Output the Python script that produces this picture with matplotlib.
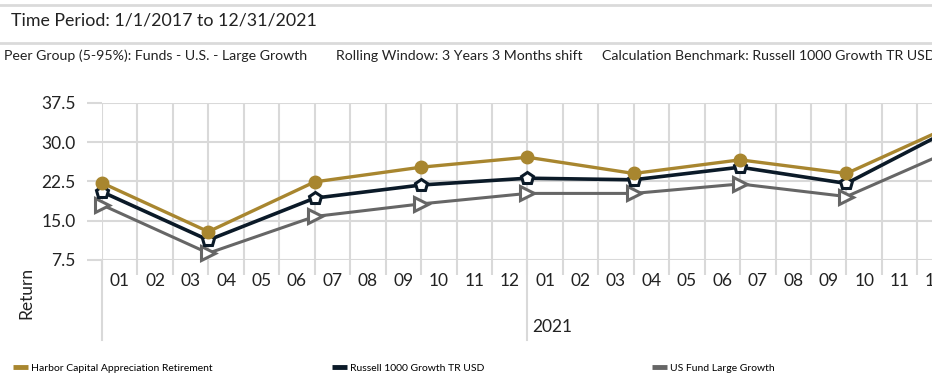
import matplotlib
matplotlib.use("Agg")
import matplotlib.pyplot as plt
from matplotlib.lines import Line2D
import matplotlib.transforms as mtransforms

plt.rcParams['font.family'] = ['Lato', 'DejaVu Sans']

# quarter-end dates of the rolling windows (year, month)
quarters = [(2019, 12), (2020, 3), (2020, 6), (2020, 9), (2020, 12),
            (2021, 3), (2021, 6), (2021, 9), (2021, 12)]
harbor  = [22.2, 12.9, 22.4, 25.2, 27.1, 24.0, 26.6, 24.0, 33.2]
russell = [20.5, 11.3, 19.3, 21.8, 23.1, 22.8, 25.2, 22.1, 32.6]
peer    = [18.0,  8.8, 15.8, 18.2, 20.2, 20.2, 22.0, 19.6, 28.5]

series_names = ["Harbor Capital Appreciation Retirement",
                "Russell 1000 Growth TR USD",
                "US Fund Large Growth"]
month_labels = ["%02d" % m for m in range(1, 13)] * 2
year_labels = ["2021"]
yticks = [7.5, 15.0, 22.5, 30.0, 37.5]

gold = "#A8862F"
navy = "#0B1A28"
gray = "#666666"
grid = "#D9D9D9"

# months elapsed since 2019-12 -> x position
xpos = [(y - 2019) * 12 + m - 12 for y, m in quarters]

W, H = 932, 373
fig = plt.figure(figsize=(W / 100, H / 100), dpi=100)

# header lines and text
for yy in (5, 43):
    fig.add_artist(Line2D([0, 1], [1 - yy / H, 1 - yy / H], color="#DADADA", lw=2,
                          transform=fig.transFigure))
fig.text(11 / W, 1 - 20 / H, "Time Period: 1/1/2017 to 12/31/2021", fontsize=12.8,
         color="#222222", va="center")
sub = [(4, "Peer Group (5-95%): Funds - U.S. - Large Growth"),
       (336, "Rolling Window: 3 Years 3 Months shift"),
       (602, "Calculation Benchmark: Russell 1000 Growth TR USD")]
for x, s in sub:
    fig.text(x / W, 1 - 56 / H, s, fontsize=10.2, color="#222222", va="center")

step = 35.45
ax = fig.add_axes([102 / W, 1 - 260 / H, 24 * step / W, 157.3 / H])
ax.set_xlim(0, 24)
ax.set_ylim(7.5, 37.5)
for sp in ax.spines.values():
    sp.set_visible(False)

ax.set_yticks(yticks)
ax.set_yticklabels(["%.1f" % v for v in yticks])
ax.tick_params(axis="y", length=11, width=1.5, color=grid, pad=8,
               labelsize=12.5, labelcolor="#222222")
ax.set_xticks(range(0, 25))
ax.set_xticklabels([])
ax.set_xticks([i + 0.5 for i in range(24)], minor=True)
ax.set_xticklabels(month_labels, minor=True)
ax.tick_params(axis="x", which="major", length=11, width=1.5, color=grid)
ax.tick_params(axis="x", which="minor", length=0, pad=9, labelsize=12.5,
               labelcolor="#222222")
ax.grid(True, color=grid, lw=1.5, zorder=0)
ax.set_axisbelow(True)

# year separators and label
trans = mtransforms.blended_transform_factory(ax.transData, ax.transAxes)
for x in (0, 12):
    ax.add_line(Line2D([x, x], [0, -80 / 157.3], color=grid, lw=1.5,
                       transform=trans, clip_on=False))
ax.text(12.15, -67 / 157.3, year_labels[0], transform=trans, fontsize=12.5,
        color="#222222", va="center", ha="left")

ax.plot(xpos, peer, color=gray, lw=2.2, marker=">", ms=10, mfc="white",
        mec=gray, mew=2.2, zorder=3, clip_on=False)
ax.plot(xpos, russell, color=navy, lw=2.6, marker="p", ms=9, mfc="white",
        mec=navy, mew=2.2, zorder=4, clip_on=False)
ax.plot(xpos, harbor, color=gold, lw=2.4, marker="o", ms=9, mfc=gold,
        mec=gold, zorder=5, clip_on=False)

fig.text(26 / W, 1 - 293 / H, "Return", rotation=90, fontsize=12.5,
         color="#222222", ha="center", va="center")

# legend entries
for x, name, c in zip((13, 332, 652), series_names, (gold, navy, gray)):
    fig.legend(handles=[Line2D([], [], color=c, lw=3.5, solid_capstyle="butt")],
               labels=[name], loc="center left",
               bbox_to_anchor=(x / W, 1 - 368 / H), frameon=False,
               fontsize=7.5, handlelength=1.4, handletextpad=0.3,
               borderpad=0, borderaxespad=0)

fig.savefig("out.png", dpi=100)
